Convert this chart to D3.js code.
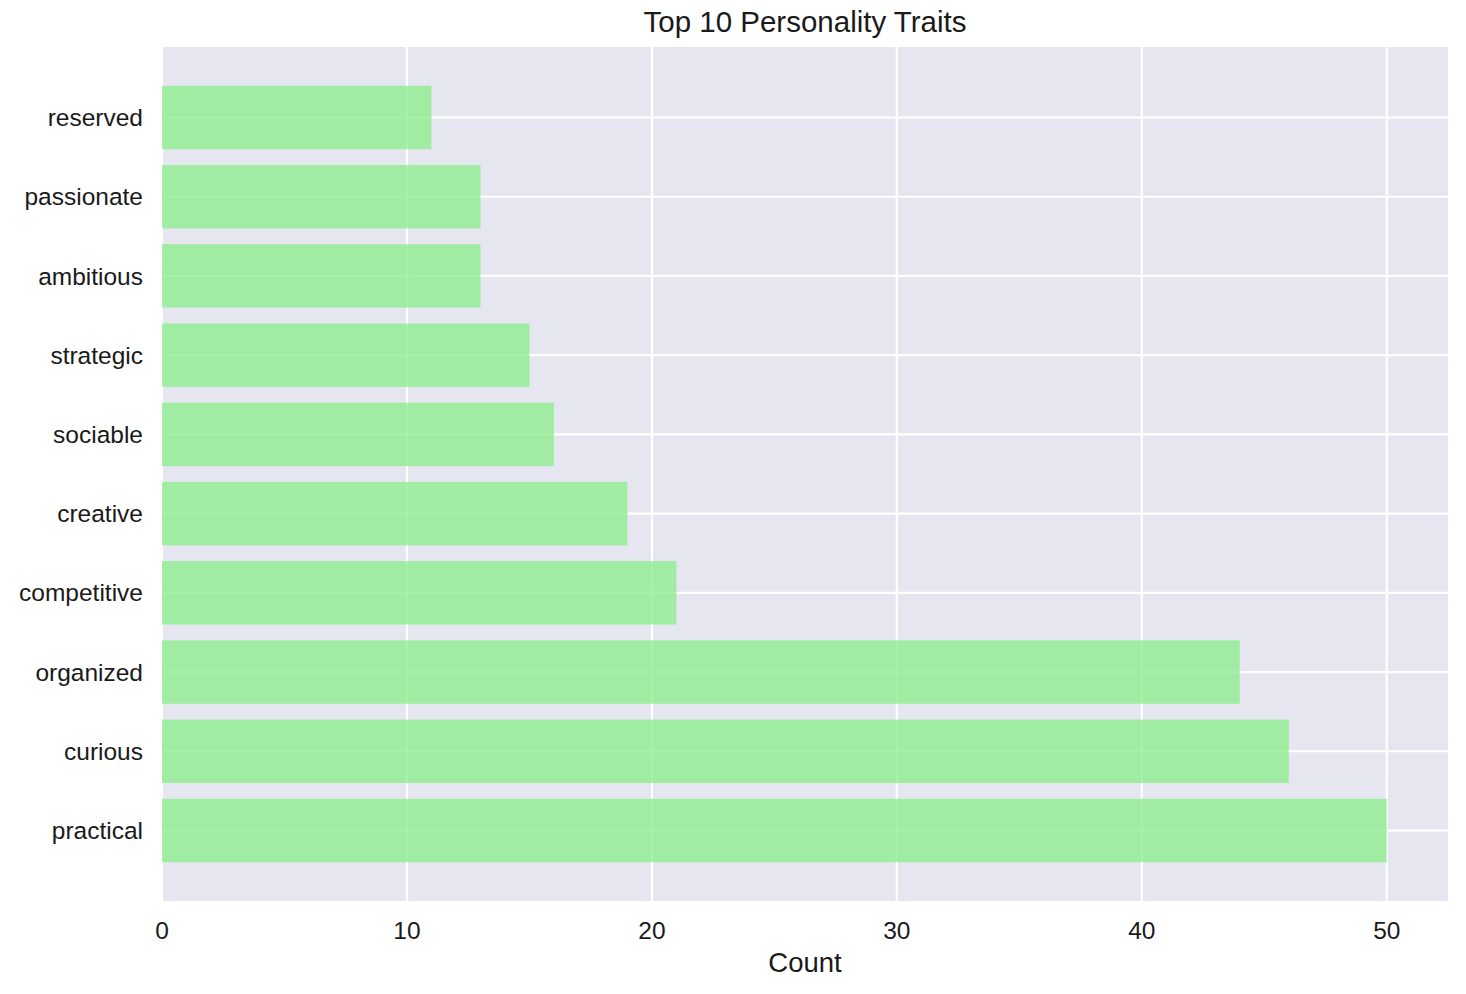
<!DOCTYPE html>
<html><head><meta charset="utf-8">
<script src="https://cdn.jsdelivr.net/npm/d3@7"></script>
<style>body{margin:0;background:#fff}svg text{font-family:"Liberation Sans",Arial,sans-serif;fill:#1a1a1a}</style>
</head><body><svg id="c" width="1466" height="994"></svg>
<script>
const traits = ["practical","curious","organized","competitive","creative","sociable","strategic","ambitious","passionate","reserved"];
const counts = [50,46,44,21,19,16,15,13,13,11];
const xTicks = [0,10,20,30,40,50];
const title = "Top 10 Personality Traits";
const xLabel = "Count";

const svg = d3.select("#c");
const L = 162, R = 1448, T = 47, B = 901;
const x = d3.scaleLinear().domain([0, 52.5]).range([L, R]);
const y = d3.scaleLinear().domain([-0.89, 9.89]).range([B, T]);

svg.append("rect").attr("x",L).attr("y",T).attr("width",R-L).attr("height",B-T).attr("fill","#e6e6f0");
const g = svg.append("g");
g.selectAll(".vx").data(xTicks).enter().append("line")
  .attr("x1",d=>x(d)).attr("x2",d=>x(d)).attr("y1",T).attr("y2",B)
  .attr("stroke","#fff").attr("stroke-width",2.2);
g.selectAll(".hy").data(traits).enter().append("line")
  .attr("x1",L).attr("x2",R).attr("y1",(d,i)=>y(i)).attr("y2",(d,i)=>y(i))
  .attr("stroke","#fff").attr("stroke-width",2.2);

const bh = y(0) - y(0.8);
svg.selectAll(".bar").data(counts).enter().append("rect")
  .attr("x",x(0)).attr("y",(d,i)=>y(i)-bh/2)
  .attr("width",d=>x(d)-x(0)).attr("height",bh)
  .attr("fill","#90ee90").attr("fill-opacity",0.8);

svg.selectAll(".xt").data(xTicks).enter().append("text")
  .attr("x",d=>x(d)).attr("y",939).attr("text-anchor","middle")
  .attr("font-size",24.5).text(d=>d);
svg.selectAll(".yt").data(traits).enter().append("text")
  .attr("x",143).attr("y",(d,i)=>y(i)).attr("dy","0.35em").attr("text-anchor","end")
  .attr("font-size",24.5).text(d=>d);
svg.append("text").attr("x",(L+R)/2).attr("y",972).attr("text-anchor","middle")
  .attr("font-size",27.5).text(xLabel);
svg.append("text").attr("x",(L+R)/2).attr("y",32).attr("text-anchor","middle")
  .attr("font-size",29.5).text(title);
</script></body></html>
